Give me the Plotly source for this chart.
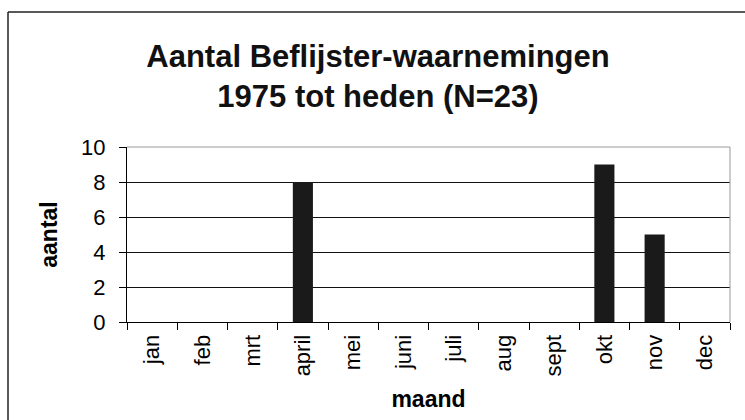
import plotly.graph_objects as go

months = ["jan", "feb", "mrt", "april", "mei", "juni", "juli", "aug", "sept", "okt", "nov", "dec"]
counts = [0, 0, 0, 8, 0, 0, 0, 0, 0, 9, 5, 0]
y_ticks = [0, 2, 4, 6, 8, 10]

FONT = "Liberation Sans, Arial, sans-serif"

fig = go.Figure(
    go.Bar(
        x=months,
        y=counts,
        width=0.4,
        marker=dict(color="#1a1a1a", line=dict(width=0)),
        hoverinfo="x+y",
    )
)

L, R, T, B = 127, 15, 147, 98
W, H = 745, 420
pw, ph = W - L - R, H - T - B

def px_x(x):
    return (x - L) / pw

def px_y(y):
    return (H - B - y) / ph

fig.update_layout(
    width=W,
    height=H,
    margin=dict(l=L, r=R, t=T, b=B, pad=0),
    paper_bgcolor="white",
    plot_bgcolor="white",
    showlegend=False,
    font=dict(family=FONT, color="black", size=22),
    title=dict(
        text="<b>Aantal Beflijster-waarnemingen<br>1975 tot heden (N=23)</b>",
        x=378 / W,
        xref="container",
        xanchor="center",
        y=1 - 67 / H,
        yref="container",
        yanchor="middle",
        font=dict(family=FONT, size=31, color="#111"),
    ),
    xaxis=dict(
        type="category",
        categoryorder="array",
        categoryarray=months,
        tickson="boundaries",
        ticks="outside",
        ticklen=7,
        tickcolor="black",
        tickwidth=1,
        showline=True,
        linecolor="black",
        linewidth=1,
        showgrid=False,
        tickangle=-90,
        tickfont=dict(size=22),
        ticklabelstandoff=3,
        title=dict(text="<b>maand</b>", font=dict(size=23), standoff=15),
        zeroline=False,
    ),
    yaxis=dict(
        range=[0, 10],
        tickvals=y_ticks,
        ticks="outside",
        ticklen=7,
        tickcolor="black",
        showline=True,
        linecolor="black",
        linewidth=1,
        showgrid=True,
        gridcolor="#111",
        gridwidth=1.2,
        zeroline=False,
        tickfont=dict(size=22),
        ticklabelstandoff=9,
        title=dict(text="<b>aantal</b>", font=dict(size=23), standoff=17),
    ),
    shapes=[
        # plot-area top & right edges (light gray)
        dict(type="line", xref="paper", yref="paper", x0=0, x1=1, y0=1, y1=1,
             line=dict(color="#999", width=1)),
        dict(type="line", xref="paper", yref="paper", x0=1, x1=1, y0=0, y1=1,
             line=dict(color="#999", width=1)),
        # outer chart frame
        dict(type="line", xref="paper", yref="paper", x0=px_x(8), x1=px_x(8), y0=px_y(12), y1=px_y(430),
             line=dict(color="#222", width=1.5)),
        dict(type="line", xref="paper", yref="paper", x0=px_x(8), x1=px_x(760), y0=px_y(12), y1=px_y(12),
             line=dict(color="#222", width=1.5)),
    ],
)

fig.write_html(
    "out.html",
    config={"displayModeBar": False},
    post_script="document.body.style.margin='0';document.body.style.overflow='hidden';",
)
